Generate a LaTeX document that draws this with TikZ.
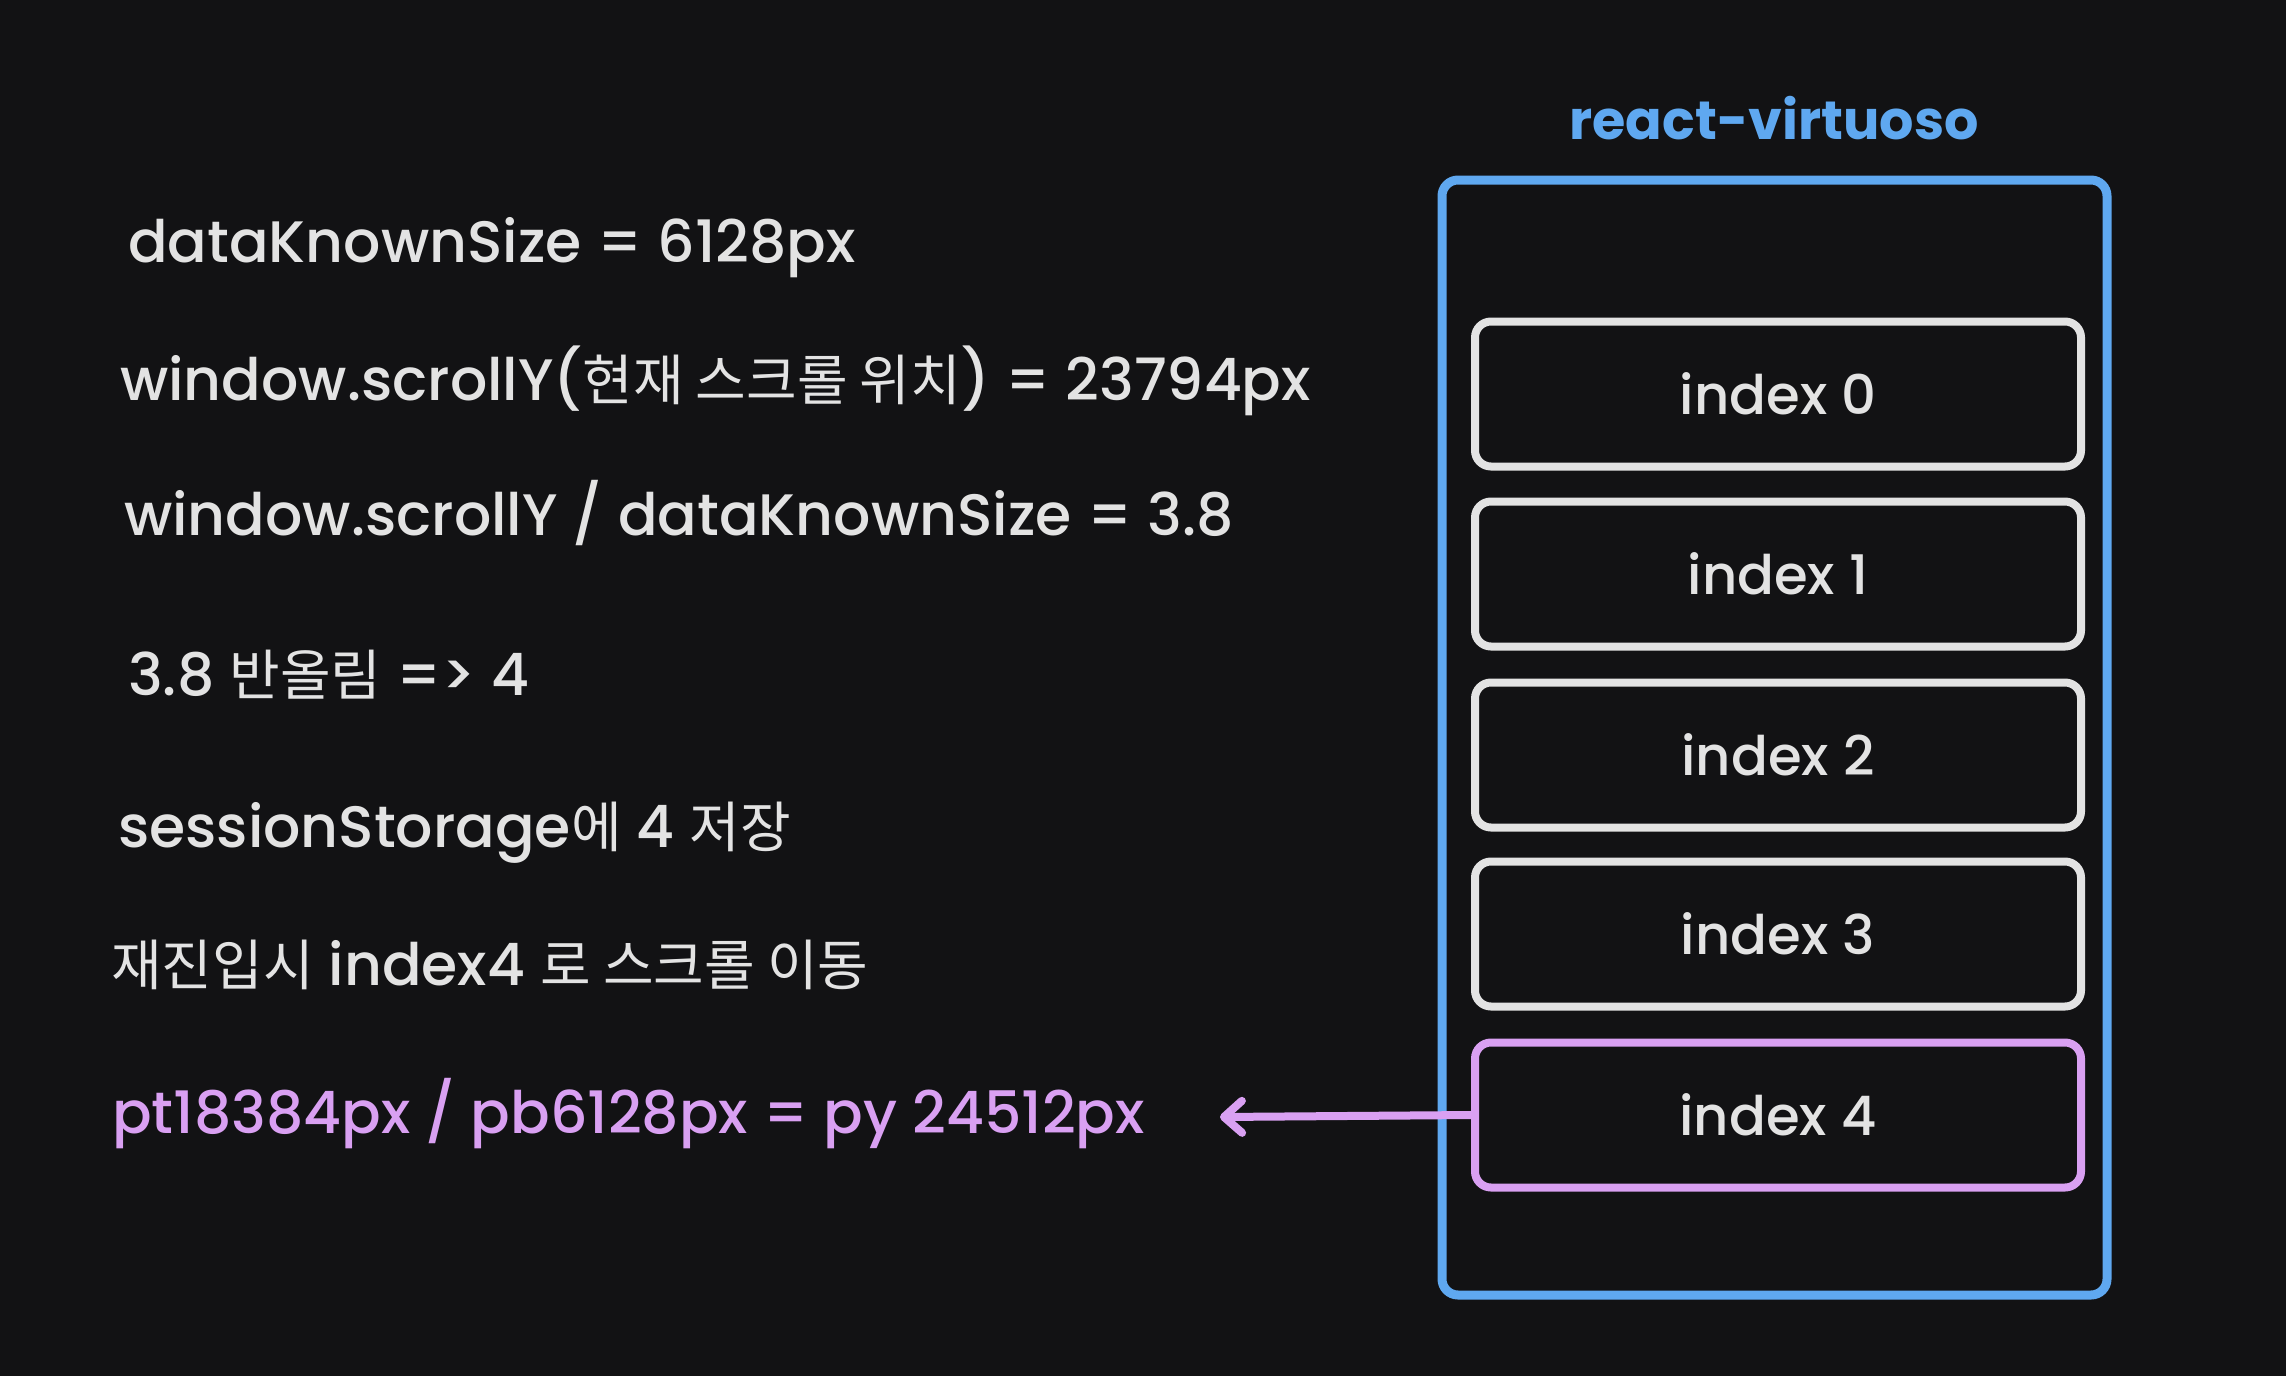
\documentclass[tikz,border=0pt]{standalone}
\usepackage{fontspec}
\setmainfont{Poppins}[UprightFont=* Medium, BoldFont=* Bold]
\newfontfamily\ko{Noto Sans CJK KR}
\newcommand\kor[1]{{\ko\fontsize{55}{60}\selectfont #1}}
\usetikzlibrary{arrows.meta}
\definecolor{bg}{HTML}{121214}
\definecolor{fg}{HTML}{E3E3E3}
\definecolor{vblue}{HTML}{5FA8F0}
\definecolor{vpurple}{HTML}{D9A0F2}
\begin{document}
\begin{tikzpicture}[x=1pt,y=-1pt,
  txt/.style={anchor=base west, inner sep=0pt, text=fg, font=\fontsize{58.5}{60}\selectfont},
  item/.style={draw=fg, line width=8pt, rounded corners=16pt, minimum width=606pt, minimum height=145pt, text=fg, font=\fontsize{54.5}{60}\selectfont},
  frame/.style={draw=vblue, line width=9pt, rounded corners=16pt, minimum width=665pt, minimum height=1115pt}
]
\fill[bg] (0,0) rectangle (2286,1376);
\useasboundingbox (0,0) rectangle (2286,1376);

\node[anchor=base, inner sep=0pt, text=vblue, font=\fontsize{54}{60}\selectfont\bfseries] (title) at (1774,139) {react-virtuoso};
\node[frame] (outer) at (1774.5,737.5) {};
\node[item] (i0) at (1778,394) {index 0};
\node[item] (i1) at (1778,574) {index 1};
\node[item] (i2) at (1778,755) {index 2};
\node[item] (i3) at (1778,934) {index 3};
\node[item, draw=vpurple] (i4) at (1778,1115) {index 4};

\node[txt] (l1) at (128,262) {dataKnownSize = 6128px};
\node[txt] (l2) at (120,400) {window.scrollY(\kor{현재 스크롤 위치}) = 23794px};
\node[txt] (l3) at (124,535) {window.scrollY / dataKnownSize = 3.8};
\node[txt] (l4) at (128,695) {3.8 \kor{반올림} => 4};
\node[txt] (l5) at (118,847) {sessionStorage\kor{에} 4 \kor{저장}};
\node[txt] (l6) at (111,985) {\kor{재진입시} index4 \kor{로 스크롤 이동}};
\node[txt, text=vpurple] (l7) at (112,1133) {pt18384px / pb6128px = py 24512px};

\coordinate (tip) at (1220,1117);
\draw[vpurple, line width=8pt, line cap=round, -{Straight Barb[length=18pt,width=32pt,round]}] (i4.west) -- (tip);
\end{tikzpicture}
\end{document}
